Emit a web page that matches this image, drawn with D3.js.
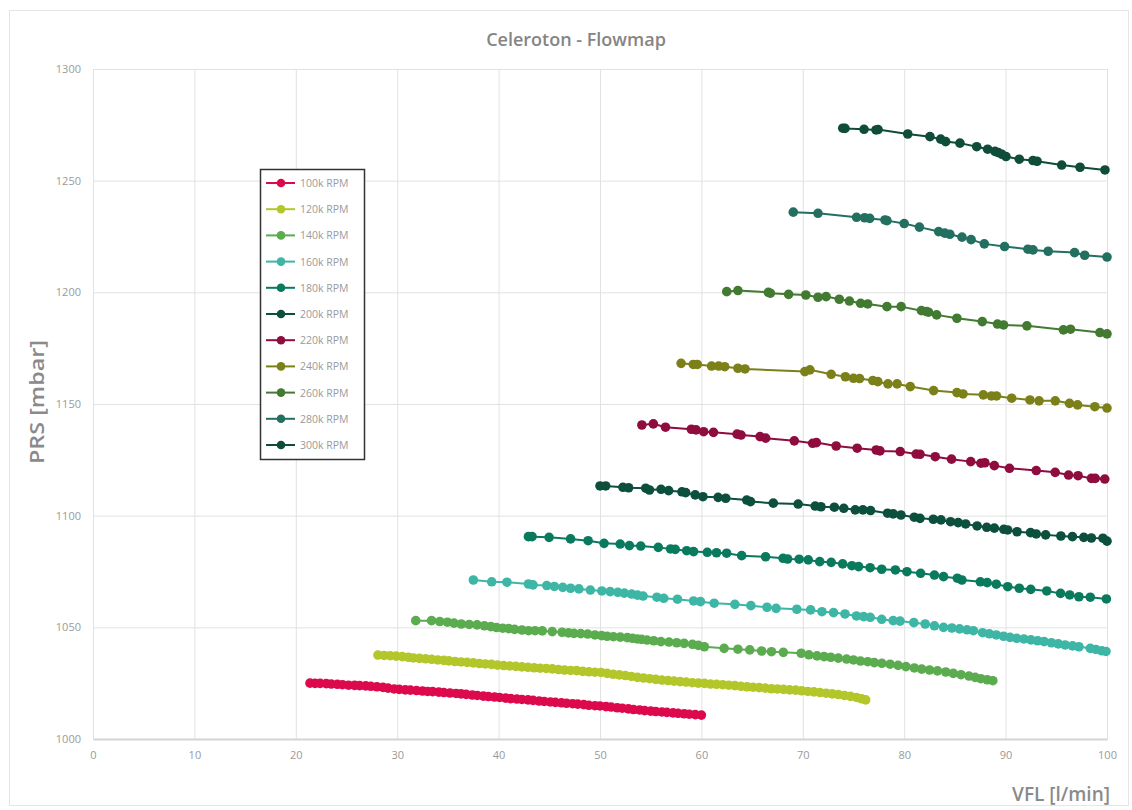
<!DOCTYPE html>
<html>
<head>
<meta charset="utf-8">
<script src="https://cdn.jsdelivr.net/npm/d3@7"></script>
<style>
  html, body { margin: 0; padding: 0; background: #ffffff; }
  svg { display: block; }
</style>
</head>
<body>
<script>
// ---------------- DATA ----------------
const xTicks = [0, 10, 20, 30, 40, 50, 60, 70, 80, 90, 100];
const yTicks = [1000, 1050, 1100, 1150, 1200, 1250, 1300];
const seriesNames = ["100k RPM","120k RPM","140k RPM","160k RPM","180k RPM","200k RPM","220k RPM","240k RPM","260k RPM","280k RPM","300k RPM"];
const seriesColors = ["#dc0a4c","#b3c62a","#5bab4f","#3db6a6","#0a7a5e","#0b4f3c","#8e0c3e","#7b8118","#417a30","#236f60","#0f4c3a"];

const rpm100 = [[21.4,1025.0],[21.9,1024.9],[22.4,1024.9],[23.0,1024.8],[23.5,1024.6],[24.1,1024.5],[24.6,1024.3],[25.2,1024.1],[25.8,1024.0],[26.3,1023.9],[26.9,1023.8],[27.4,1023.6],[28.0,1023.4],[28.6,1023.1],[29.1,1022.8],[29.7,1022.4],[30.2,1022.2],[30.8,1022.0],[31.3,1021.9],[31.9,1021.7],[32.5,1021.5],[33.0,1021.3],[33.5,1021.2],[34.1,1021.0],[34.6,1020.8],[35.2,1020.6],[35.8,1020.4],[36.3,1020.2],[36.8,1020.0],[37.4,1019.7],[37.9,1019.5],[38.5,1019.2],[39.0,1019.0],[39.6,1018.8],[40.1,1018.6],[40.7,1018.3],[41.2,1018.1],[41.8,1017.9],[42.3,1017.7],[42.9,1017.5],[43.4,1017.3],[44.0,1017.0],[44.5,1016.8],[45.1,1016.6],[45.6,1016.4],[46.2,1016.2],[46.7,1016.0],[47.3,1015.8],[47.8,1015.6],[48.4,1015.4],[48.9,1015.1],[49.5,1014.9],[50.0,1014.8],[50.6,1014.5],[51.1,1014.3],[51.7,1014.0],[52.2,1013.8],[52.8,1013.5],[53.3,1013.2],[53.9,1013.0],[54.4,1012.7],[55.0,1012.5],[55.5,1012.3],[56.1,1012.1],[56.6,1011.9],[57.2,1011.7],[57.7,1011.5],[58.3,1011.3],[58.8,1011.1],[59.4,1010.9],[60.0,1010.7]];
const rpm120 = [[28.1,1037.6],[28.7,1037.4],[29.3,1037.3],[29.9,1037.1],[30.5,1036.9],[31.1,1036.6],[31.6,1036.3],[32.2,1036.1],[32.8,1035.9],[33.4,1035.7],[34.0,1035.4],[34.6,1035.2],[35.1,1035.0],[35.7,1034.7],[36.3,1034.5],[36.9,1034.3],[37.5,1034.1],[38.1,1033.8],[38.7,1033.6],[39.3,1033.4],[39.9,1033.1],[40.5,1032.9],[41.1,1032.7],[41.7,1032.5],[42.3,1032.3],[42.9,1032.1],[43.5,1031.9],[44.1,1031.7],[44.7,1031.6],[45.3,1031.4],[45.9,1031.1],[46.5,1030.9],[47.1,1030.7],[47.7,1030.6],[48.3,1030.3],[48.9,1030.1],[49.5,1029.9],[50.1,1029.8],[50.7,1029.4],[51.3,1029.0],[51.9,1028.7],[52.5,1028.4],[53.1,1028.0],[53.7,1027.6],[54.3,1027.3],[54.9,1027.0],[55.5,1026.7],[56.1,1026.4],[56.7,1026.2],[57.3,1025.9],[57.9,1025.7],[58.5,1025.5],[59.1,1025.2],[59.7,1025.0],[60.3,1024.9],[60.9,1024.6],[61.5,1024.5],[62.1,1024.3],[62.7,1024.1],[63.3,1023.9],[63.9,1023.6],[64.5,1023.4],[65.1,1023.2],[65.7,1023.0],[66.3,1022.8],[66.9,1022.5],[67.5,1022.4],[68.1,1022.2],[68.7,1022.0],[69.3,1021.9],[69.9,1021.6],[70.5,1021.3],[71.1,1021.1],[71.7,1020.8],[72.3,1020.5],[72.9,1020.2],[73.5,1019.9],[74.1,1019.5],[74.7,1019.1],[75.3,1018.6],[75.8,1018.0],[76.2,1017.5]];
const rpm140 = [[31.83,1053.0],[33.39,1053.0],[34.2,1052.6],[34.95,1052.3],[35.6,1051.9],[36.32,1051.5],[37.1,1051.3],[37.88,1051.1],[38.6,1050.7],[39.24,1050.3],[39.8,1049.9],[40.41,1049.6],[41.0,1049.4],[41.58,1049.1],[42.3,1048.8],[42.95,1048.5],[43.6,1048.5],[44.31,1048.4],[45.29,1048.1],[46.26,1047.8],[46.9,1047.5],[47.43,1047.3],[48.1,1047.2],[48.79,1047.0],[49.5,1046.6],[50.16,1046.3],[50.7,1046.0],[51.32,1045.8],[52.0,1045.6],[52.69,1045.4],[53.2,1045.1],[53.67,1044.8],[54.1,1044.6],[54.64,1044.3],[55.3,1044.0],[56.01,1043.6],[56.8,1043.4],[57.56,1043.1],[58.3,1042.8],[59.12,1042.4],[59.7,1041.9],[60.29,1041.3],[62.24,1040.6],[63.60,1040.2],[64.77,1039.9],[65.94,1039.4],[66.91,1039.1],[68.08,1038.8],[69.84,1038.4],[70.6,1037.7],[71.40,1037.2],[72.1,1036.9],[72.76,1036.6],[73.5,1036.2],[74.32,1035.8],[75.0,1035.4],[75.69,1034.9],[76.4,1034.6],[77.05,1034.2],[77.8,1033.9],[78.61,1033.5],[79.4,1033.0],[80.17,1032.4],[81.0,1031.8],[81.73,1031.3],[82.5,1030.9],[83.28,1030.5],[84.1,1030.0],[84.84,1029.4],[85.6,1028.8],[86.39,1028.2],[87.0,1027.6],[87.56,1027.0],[88.2,1026.5],[88.74,1026.1]];
const rpm160 = [[37.51,1071.2],[39.32,1070.4],[40.82,1070.2],[42.94,1069.4],[43.39,1069.0],[44.75,1068.7],[45.5,1068.3],[46.33,1067.9],[47.1,1067.5],[47.92,1067.2],[49.05,1066.7],[50.18,1066.3],[51.0,1066.0],[51.76,1065.7],[52.4,1065.3],[53.12,1064.9],[53.7,1064.4],[54.25,1064.0],[55.61,1063.5],[56.29,1063.0],[57.64,1062.6],[59.23,1061.8],[59.91,1061.5],[61.26,1060.8],[63.30,1060.3],[64.88,1059.7],[66.47,1059.0],[67.37,1058.5],[69.41,1058.1],[70.77,1057.8],[71.89,1057.0],[73.03,1056.6],[74.16,1056.0],[75.29,1055.1],[76.0,1054.8],[76.65,1054.5],[77.78,1053.6],[78.91,1053.0],[79.59,1052.8],[80.95,1052.1],[82.07,1051.5],[82.98,1050.7],[83.88,1050.0],[84.7,1049.7],[85.46,1049.3],[86.2,1048.9],[86.82,1048.5],[87.73,1047.6],[88.4,1047.1],[89.08,1046.6],[89.8,1046.0],[90.44,1045.5],[91.1,1045.1],[91.80,1044.8],[92.5,1044.4],[93.16,1044.0],[93.8,1043.6],[94.52,1043.1],[95.2,1042.6],[95.87,1042.1],[96.6,1041.7],[97.23,1041.3],[98.35,1040.6],[98.9,1040.1],[99.49,1039.5],[99.9,1039.2]];
const rpm180 = [[42.94,1090.6],[43.3,1090.6],[44.98,1090.3],[47.10,1089.6],[48.83,1088.8],[50.40,1087.6],[51.99,1087.3],[52.90,1086.6],[54.02,1086.4],[55.75,1085.8],[56.96,1085.1],[57.42,1084.9],[58.55,1084.3],[59.23,1083.9],[60.58,1083.6],[61.49,1083.4],[62.49,1083.2],[63.97,1082.1],[66.33,1081.6],[68.05,1080.9],[68.50,1080.6],[69.64,1080.5],[70.54,1080.2],[71.67,1079.4],[72.80,1079.1],[73.93,1078.4],[74.84,1077.6],[75.51,1077.2],[76.64,1076.7],[77.78,1076.0],[79.13,1075.7],[80.27,1074.9],[81.62,1074.2],[82.98,1073.4],[83.88,1072.7],[85.24,1072.0],[85.69,1071.2],[87.51,1070.4],[88.18,1070.0],[89.08,1069.3],[90.21,1068.2],[91.35,1067.5],[92.48,1067.0],[94.06,1066.3],[95.42,1065.2],[96.32,1064.5],[97.23,1063.7],[98.35,1063.5],[99.94,1062.7]];
const rpm200 = [[50.0,1113.3],[50.56,1113.3],[52.26,1112.7],[52.82,1112.5],[54.51,1112.3],[54.88,1111.5],[56.02,1111.8],[56.77,1111.2],[58.08,1110.7],[58.45,1110.3],[59.39,1109.3],[60.15,1108.5],[61.65,1108.2],[62.40,1107.8],[64.47,1107.0],[64.84,1106.3],[67.09,1105.6],[69.54,1105.2],[71.22,1104.3],[71.79,1104.0],[73.11,1103.8],[74.04,1103.3],[75.17,1102.6],[75.93,1102.6],[76.68,1102.3],[78.36,1101.1],[78.92,1100.8],[79.68,1100.3],[80.99,1099.3],[81.56,1098.8],[82.87,1098.4],[83.63,1098.1],[84.57,1097.3],[85.32,1096.9],[86.06,1096.3],[87.19,1095.4],[88.14,1094.8],[88.89,1094.4],[89.82,1093.9],[90.20,1093.6],[91.13,1092.8],[92.46,1092.4],[93.02,1091.8],[93.95,1091.4],[95.45,1090.9],[96.59,1090.6],[97.71,1090.3],[98.46,1090.0],[99.60,1089.9],[100.0,1088.6]];
const rpm220 = [[54.13,1140.6],[55.26,1141.1],[56.46,1139.6],[59.01,1138.7],[59.47,1138.4],[60.22,1137.6],[61.19,1137.3],[63.52,1136.5],[63.91,1136.1],[65.78,1135.4],[66.34,1134.7],[69.16,1133.5],[70.97,1132.4],[71.34,1132.7],[73.29,1131.2],[75.36,1130.2],[77.24,1129.4],[77.61,1129.0],[79.61,1128.7],[81.18,1127.6],[81.56,1127.5],[83.06,1126.4],[84.67,1125.3],[86.56,1124.2],[87.57,1123.5],[87.95,1123.7],[88.89,1122.4],[90.38,1121.2],[93.02,1120.2],[94.89,1119.4],[96.21,1118.2],[97.15,1117.9],[98.46,1116.7],[98.84,1116.7],[99.78,1116.4]];
const rpm240 = [[58.0,1168.2],[59.2,1167.7],[59.6,1167.7],[61.0,1167.0],[61.7,1167.0],[62.3,1166.7],[63.6,1166.0],[64.3,1165.7],[70.2,1164.5],[70.7,1165.3],[72.8,1163.3],[74.2,1162.2],[75.0,1161.5],[75.6,1161.4],[76.9,1160.5],[77.4,1160.0],[78.4,1159.0],[79.3,1159.0],[80.6,1157.8],[82.9,1156.0],[85.2,1155.1],[85.8,1154.5],[87.8,1154.1],[88.6,1153.6],[89.1,1153.6],[90.6,1152.6],[92.4,1151.8],[93.3,1151.4],[94.9,1151.4],[96.3,1150.3],[97.1,1149.6],[98.8,1148.8],[100.0,1148.2]];
const rpm260 = [[62.5,1200.3],[63.6,1200.8],[66.6,1200.0],[66.8,1199.6],[68.6,1199.1],[70.3,1198.8],[71.5,1197.8],[72.3,1198.1],[73.6,1196.9],[74.6,1196.1],[75.7,1195.1],[76.4,1194.8],[78.3,1193.6],[79.7,1193.6],[81.7,1191.8],[82.2,1191.4],[82.4,1191.1],[83.2,1189.9],[85.2,1188.4],[87.7,1186.9],[89.2,1185.8],[89.8,1185.4],[92.1,1185.0],[95.7,1183.2],[96.4,1183.5],[99.3,1182.0],[100.0,1181.4]];
const rpm280 = [[69.06,1235.9],[71.5,1235.4],[75.3,1233.6],[76.1,1233.4],[76.6,1233.1],[78.1,1232.4],[78.3,1232.1],[80.0,1230.8],[81.5,1229.2],[83.4,1227.2],[84.0,1226.5],[84.5,1226.0],[85.7,1224.7],[86.6,1223.6],[87.9,1221.7],[89.9,1220.5],[92.2,1219.3],[92.7,1219.0],[94.2,1218.4],[96.8,1217.8],[97.8,1216.6],[100.0,1215.8]];
const rpm300 = [[73.94,1273.5],[74.16,1273.4],[76.04,1273.0],[77.22,1272.7],[77.42,1272.9],[80.35,1270.9],[82.54,1269.7],[83.60,1268.6],[84.09,1267.5],[85.50,1266.8],[87.15,1265.2],[88.23,1264.1],[88.95,1263.1],[89.28,1262.6],[89.64,1261.8],[90.04,1260.8],[91.35,1259.6],[92.70,1259.0],[93.10,1258.7],[95.53,1257.0],[97.34,1256.0],[99.80,1254.8]];

const allSeries = [rpm100, rpm120, rpm140, rpm160, rpm180, rpm200, rpm220, rpm240, rpm260, rpm280, rpm300];

// ---------------- LAYOUT ----------------
const W = 1132, H = 810;
const plot = { left: 93, right: 1107, top: 69, bottom: 739 };

const svg = d3.select("body").append("svg").attr("width", W).attr("height", H);

// chart frame
svg.append("rect").attr("x", 9.5).attr("y", 10.5).attr("width", 1119).attr("height", 795)
  .attr("fill", "#ffffff").attr("stroke", "#e6e6e6").attr("stroke-width", 1);

const x = d3.scaleLinear().domain([0, 100]).range([plot.left, plot.right]);
const y = d3.scaleLinear().domain([1000, 1300]).range([plot.bottom, plot.top]);

// gridlines
const grid = svg.append("g");
grid.selectAll("line.h").data(yTicks.filter(t => t > 1000)).join("line")
  .attr("x1", plot.left).attr("x2", plot.right)
  .attr("y1", d => y(d) + 0.5).attr("y2", d => y(d) + 0.5)
  .attr("stroke", "#e2e2e2").attr("stroke-width", 1);
grid.selectAll("line.v").data(xTicks.filter(t => t > 0)).join("line")
  .attr("y1", plot.top).attr("y2", plot.bottom)
  .attr("x1", d => x(d) + 0.5).attr("x2", d => x(d) + 0.5)
  .attr("stroke", "#e2e2e2").attr("stroke-width", 1);

// axes
const fontFam = "'Open Sans', 'Noto Sans', sans-serif";
const xAxis = svg.append("g").attr("transform", `translate(0,${plot.bottom})`)
  .call(d3.axisBottom(x).tickValues(xTicks).tickSize(0).tickPadding(12).tickFormat(d3.format("d")));
xAxis.select(".domain").attr("stroke", "#d4d4d4").attr("stroke-width", 2);
xAxis.selectAll("text").attr("fill", "#9a9a9a").style("font-family", fontFam).style("font-size", "11px");

const yAxis = svg.append("g").attr("transform", `translate(${plot.left},0)`)
  .call(d3.axisLeft(y).tickValues(yTicks).tickSize(0).tickPadding(12).tickFormat(d3.format("d")));
yAxis.select(".domain").attr("stroke", "#e2e2e2").attr("stroke-width", 1);
yAxis.selectAll("text").attr("fill", "#9a9a9a").style("font-family", fontFam).style("font-size", "11px");

// series
const line = d3.line().x(d => x(d[0])).y(d => y(d[1]));
const seriesG = svg.append("g");
allSeries.forEach((data, i) => {
  const g = seriesG.append("g");
  g.append("path").datum(data).attr("d", line)
    .attr("fill", "none").attr("stroke", seriesColors[i]).attr("stroke-width", 2);
  g.selectAll("circle").data(data).join("circle")
    .attr("cx", d => x(d[0])).attr("cy", d => y(d[1])).attr("r", 4.8)
    .attr("fill", seriesColors[i]);
});

// title
svg.append("text").attr("x", 576).attr("y", 46).attr("text-anchor", "middle")
  .attr("fill", "#858585").style("font-family", fontFam).style("font-size", "18px").style("font-weight", 600)
  .text("Celeroton - Flowmap");

// axis titles
svg.append("text").attr("transform", "translate(44,402) rotate(-90)").attr("text-anchor", "middle")
  .attr("fill", "#8a8a8a").style("font-family", fontFam).style("font-size", "19px").style("font-weight", 600)
  .attr("textLength", 124).attr("lengthAdjust", "spacingAndGlyphs")
  .text("PRS [mbar]");
svg.append("text").attr("x", 1110).attr("y", 801).attr("text-anchor", "end")
  .attr("fill", "#8a8a8a").style("font-family", fontFam).style("font-size", "19px").style("font-weight", 600)
  .text("VFL [l/min]");

// legend
const lg = svg.append("g");
lg.append("rect").attr("x", 260.5).attr("y", 169.5).attr("width", 104).attr("height", 290)
  .attr("fill", "#ffffff").attr("stroke", "#333333").attr("stroke-width", 1.5);
const ly = d3.scalePoint().domain(seriesNames).range([183, 445]);
seriesNames.forEach((name, i) => {
  const yy = ly(name);
  lg.append("line").attr("x1", 266).attr("x2", 295).attr("y1", yy).attr("y2", yy)
    .attr("stroke", seriesColors[i]).attr("stroke-width", 2);
  lg.append("circle").attr("cx", 281).attr("cy", yy).attr("r", 4.3).attr("fill", seriesColors[i]);
  lg.append("text").attr("x", 300).attr("y", yy + 4).attr("fill", "#9a9a9a")
    .style("font-family", fontFam).style("font-size", "10.5px").text(name);
});
</script>
</body>
</html>
